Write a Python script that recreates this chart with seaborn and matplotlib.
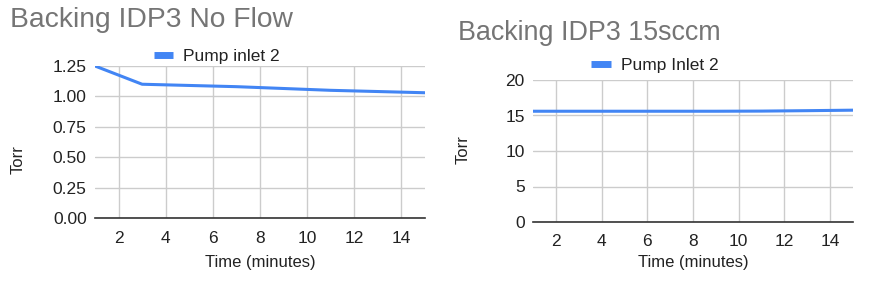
import matplotlib
matplotlib.use("Agg")
import matplotlib.pyplot as plt
import seaborn as sns
import pandas as pd

# Data
time_noflow = [1, 3, 5, 7, 9, 11, 13, 15]
torr_noflow = [1.25, 1.10, 1.09, 1.08, 1.065, 1.05, 1.04, 1.03]
time_15sccm = [1, 3, 5, 7, 9, 11, 13, 15]
torr_15sccm = [15.6, 15.6, 15.6, 15.6, 15.6, 15.62, 15.68, 15.75]
xticks = [2, 4, 6, 8, 10, 12, 14]
yticks_left = [0.00, 0.25, 0.50, 0.75, 1.00, 1.25]
yticks_right = [0, 5, 10, 15, 20]

sns.set_theme(style="white")
plt.rcParams['font.family'] = ['Liberation Sans', 'DejaVu Sans']

BLUE = "#4285F4"
GRID = "#cccccc"
TXT = "#222222"

fig = plt.figure(figsize=(8.72, 2.81), dpi=100)

df1 = pd.DataFrame({"Time (minutes)": time_noflow, "Torr": torr_noflow})
df2 = pd.DataFrame({"Time (minutes)": time_15sccm, "Torr": torr_15sccm})

ax1 = fig.add_axes([95/872, 1-218/281, (425-95)/872, (218-66)/281])
ax2 = fig.add_axes([533/872, 1-222/281, (853-533)/872, (222-80)/281])

def style(ax, df, yticks, ylim, ylabfmt, legend_label, leg_xy, ylab_xy,
          xpad, xlabpad):
    sns.lineplot(data=df, x="Time (minutes)", y="Torr", ax=ax, color=BLUE,
                 linewidth=2.2, label=legend_label, zorder=3)
    ax.set_xlim(1, 15)
    ax.set_ylim(*ylim)
    ax.set_xticks(xticks)
    ax.set_yticks(yticks)
    ax.set_yticklabels([ylabfmt.format(v) for v in yticks])
    ax.grid(True, color=GRID, linewidth=1)
    ax.set_axisbelow(True)
    for s in ["top", "right", "left"]:
        ax.spines[s].set_visible(False)
    ax.spines["bottom"].set_color("#333333")
    ax.spines["bottom"].set_linewidth(1.2)
    ax.spines["bottom"].set_zorder(4)
    ax.tick_params(axis="both", length=0, labelsize=12.5, colors=TXT)
    ax.tick_params(axis="y", pad=6)
    ax.tick_params(axis="x", pad=xpad)
    ax.set_xlabel("Time (minutes)", fontsize=12, color=TXT, labelpad=xlabpad)
    ax.set_ylabel("Torr", fontsize=12, color=TXT)
    ax.yaxis.set_label_coords(ylab_xy[0]/872, 1-ylab_xy[1]/281,
                              transform=fig.transFigure)
    ax.yaxis.label.set_verticalalignment("center")
    leg = ax.legend(loc="center", bbox_to_anchor=(leg_xy[0]/872, 1-leg_xy[1]/281),
                    bbox_transform=fig.transFigure, frameon=False,
                    fontsize=12.5, handlelength=1.1, handletextpad=0.6,
                    borderaxespad=0.0, borderpad=0.0)
    for h in leg.get_lines():
        h.set_linewidth(5)
        h.set_solid_capstyle("butt")
    for t in leg.get_texts():
        t.set_color(TXT)

style(ax1, df1, yticks_left, (0, 1.25), "{:.2f}", "Pump inlet 2", (217, 56), (18, 160),
      9.5, 6.5)
style(ax2, df2, yticks_right, (0, 20), "{:d}", "Pump Inlet 2", (655, 65), (463, 150),
      9.0, 4.0)

fig.text(10/872, 1-20/281, "Backing IDP3 No Flow", fontsize=20.3, color="#757575",
         va="center", ha="left")
fig.text(458/872, 1-33/281, "Backing IDP3 15sccm", fontsize=19.4, color="#757575",
         va="center", ha="left")

fig.savefig("out.png", dpi=100)
